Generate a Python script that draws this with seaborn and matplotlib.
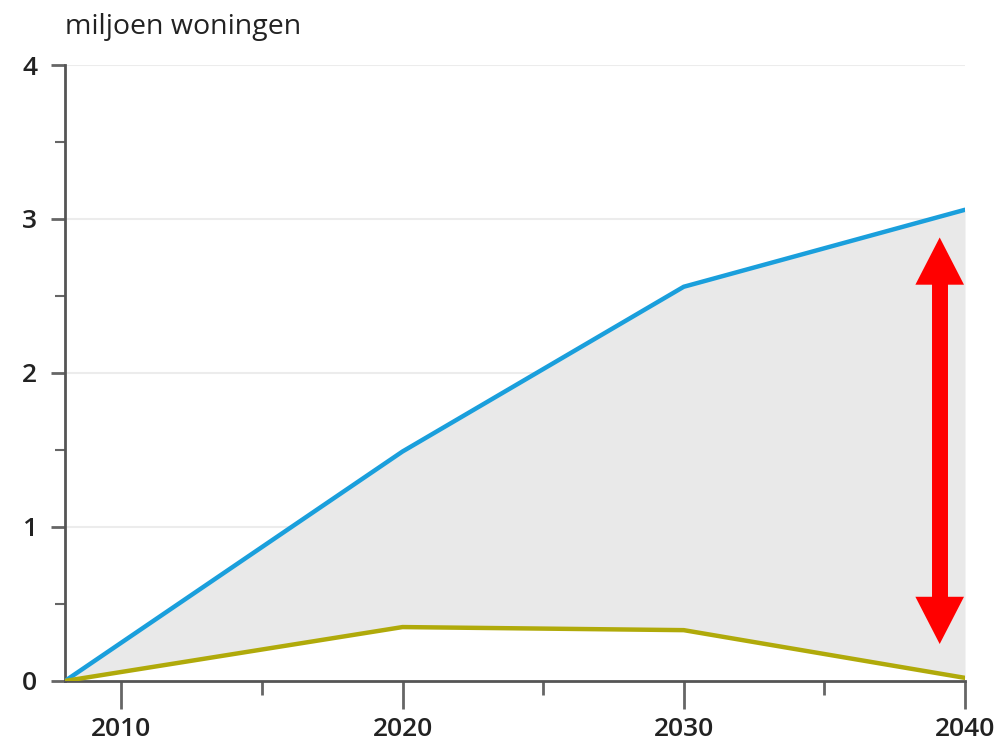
import matplotlib
matplotlib.use('Agg')
import matplotlib.pyplot as plt
import seaborn as sns
import pandas as pd
from matplotlib.ticker import MultipleLocator
from matplotlib.patches import FancyArrowPatch

jaren = [2008, 2020, 2030, 2040]
bovengrens = [0.0, 1.49, 2.56, 3.06]
ondergrens = [0.0, 0.35, 0.33, 0.02]

pijl_x = 2039.1
pijl_onder = 0.24
pijl_boven = 2.88

df = pd.DataFrame({'jaar': jaren, 'boven': bovengrens, 'onder': ondergrens})

sns.set_style('white')
plt.rcParams['font.family'] = ['Open Sans', 'DejaVu Sans']

fig = plt.figure(figsize=(10, 7.43), dpi=100)
ax = fig.add_axes([0.065, 0.0835, 0.9, 0.829])

for y in [1, 2, 3, 4]:
    ax.axhline(y, color='#ececec', lw=1.5, zorder=0)

ax.fill_between(df['jaar'], df['onder'], df['boven'], color='#e9e9e9', lw=0, zorder=1)
sns.lineplot(data=df, x='jaar', y='boven', color='#1a9fdc', lw=3.2, ax=ax, zorder=3)
sns.lineplot(data=df, x='jaar', y='onder', color='#b0aa0a', lw=3.2, ax=ax, zorder=3)

# dubbele pijl: schacht als lijn, koppen als gevulde driehoeken
ax.vlines(pijl_x, pijl_onder + 0.2, pijl_boven - 0.2, color='#ff0000', lw=11.5,
          capstyle='butt', zorder=4)
koppen = FancyArrowPatch((pijl_x, pijl_onder), (pijl_x, pijl_boven),
                         arrowstyle='<|-|>,head_length=3.4,head_width=1.75',
                         mutation_scale=10, color='#ff0000', lw=0,
                         shrinkA=0, shrinkB=0, zorder=4)
ax.add_patch(koppen)

ax.set_xlim(2008, 2040)
ax.set_ylim(0, 4)
ax.set_xticks([2010, 2020, 2030, 2040])
ax.xaxis.set_minor_locator(MultipleLocator(5))
ax.yaxis.set_major_locator(MultipleLocator(1))
ax.yaxis.set_minor_locator(MultipleLocator(0.5))

for s in ['top', 'right']:
    ax.spines[s].set_visible(False)
for s in ['left', 'bottom']:
    ax.spines[s].set_color('#555555')
    ax.spines[s].set_linewidth(2)

ax.tick_params(axis='x', which='both', bottom=True)
ax.tick_params(axis='y', which='both', left=True)
ax.tick_params(axis='x', which='major', direction='out', length=20, width=2,
               color='#666666', labelsize=19, labelcolor='#222222', pad=6)
ax.tick_params(axis='x', which='minor', direction='out', length=10, width=2, color='#666666')
ax.tick_params(axis='y', which='major', direction='out', length=10, width=2,
               color='#666666', labelsize=19, labelcolor='#222222', pad=10)
ax.tick_params(axis='y', which='minor', direction='out', length=7, width=1.5, color='#666666')
for lbl in ax.get_xticklabels() + ax.get_yticklabels():
    lbl.set_fontweight('semibold')

ax.set_xlabel('')
ax.set_ylabel('')
fig.text(0.065, 0.963, 'miljoen woningen', fontsize=20.5, color='#222222', va='center', ha='left')

plt.savefig('out.png', dpi=100)
